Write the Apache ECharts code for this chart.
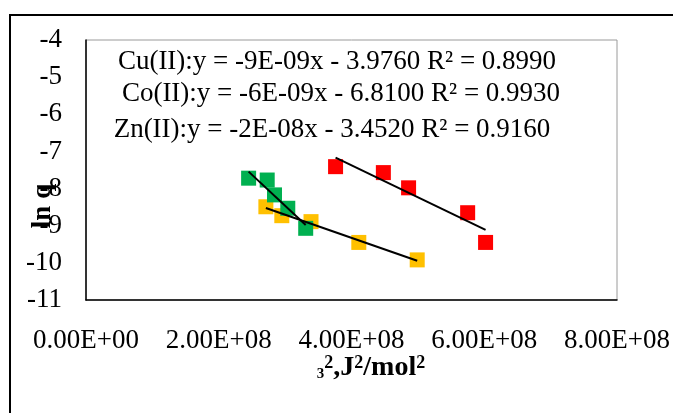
<!DOCTYPE html>
<html>
<head>
<meta charset="utf-8">
<script src="https://cdn.jsdelivr.net/npm/echarts@6/dist/echarts.min.js"></script>
<style>
  html, body { margin: 0; padding: 0; background: #fff; }
  #chart { width: 673px; height: 413px; }
</style>
</head>
<body>
<div id="chart"></div>
<script>
// Dubinin–Radushkevich plot points for each metal ion
const cuX = [3.76e8, 4.48e8, 4.86e8, 5.75e8, 6.02e8];
const cuY = [-7.41, -7.57, -7.98, -8.65, -9.45];
const coX = [2.71e8, 2.95e8, 3.39e8, 4.11e8, 4.99e8];
const coY = [-8.49, -8.73, -8.89, -9.45, -9.92];
const znX = [2.45e8, 2.73e8, 2.84e8, 3.04e8, 3.31e8];
const znY = [-7.72, -7.77, -8.17, -8.53, -9.07];

// Trendline equation texts
const eqLabels = [
  'Cu(II):y = -9E-09x - 3.9760 R² = 0.8990',
  'Co(II):y = -6E-09x - 6.8100 R² = 0.9930',
  'Zn(II):y = -2E-08x - 3.4520 R² = 0.9160'
];

// Axis ranges
const xMin = 0, xMax = 8e8, xStep = 2e8;
const yMin = -11, yMax = -4, yStep = 1;

const FONT = '"Liberation Serif", "Times New Roman", serif';

function pairs(xs, ys) { return xs.map((x, i) => [x, ys[i]]); }

// Least-squares linear trendline spanning the data's x range
function trend(xs, ys) {
  const n = xs.length;
  const mx = xs.reduce((a, b) => a + b, 0) / n;
  const my = ys.reduce((a, b) => a + b, 0) / n;
  let sxy = 0, sxx = 0;
  for (let i = 0; i < n; i++) {
    sxy += (xs[i] - mx) * (ys[i] - my);
    sxx += (xs[i] - mx) * (xs[i] - mx);
  }
  const k = sxy / sxx, b = my - k * mx;
  const x0 = Math.min(...xs), x1 = Math.max(...xs);
  return [[x0, k * x0 + b], [x1, k * x1 + b]];
}

function sci(v) {
  if (v === 0) return '0.00E+00';
  const e = Math.floor(Math.log10(Math.abs(v)));
  const m = v / Math.pow(10, e);
  return m.toFixed(2) + 'E+' + String(e).padStart(2, '0');
}

function scatter(name, xs, ys, color) {
  return {
    name, type: 'scatter', data: pairs(xs, ys),
    symbol: 'rect', symbolSize: 15,
    itemStyle: { color: color, opacity: 1 },
    z: 2
  };
}
function line(xs, ys) {
  return {
    type: 'line', data: trend(xs, ys), symbol: 'none',
    lineStyle: { color: '#000', width: 2 }, z: 5, silent: true
  };
}

const chart = echarts.init(document.getElementById('chart'), null, { renderer: 'canvas' });
chart.setOption({
  animation: false,
  backgroundColor: '#fff',
  grid: {
    left: 86, right: 56, top: 40, bottom: 113,
    show: true, borderColor: '#9a9a9a', borderWidth: 1
  },
  xAxis: {
    type: 'value', min: xMin, max: xMax, interval: xStep,
    axisLine: { show: true, lineStyle: { color: '#000', width: 1.5 } },
    axisTick: { show: false },
    splitLine: { show: false },
    axisLabel: { margin: 27, color: '#000', fontFamily: FONT, fontSize: 27, formatter: sci }
  },
  yAxis: {
    type: 'value', min: yMin, max: yMax, interval: yStep,
    axisLine: { show: true, onZero: false, lineStyle: { color: '#000', width: 1.5 } },
    axisTick: { show: false },
    splitLine: { show: false },
    axisLabel: { margin: 24, color: '#000', fontFamily: FONT, fontSize: 27 }
  },
  series: [
    scatter('Cu(II)', cuX, cuY, '#FF0000'),
    scatter('Co(II)', coX, coY, '#FFC000'),
    scatter('Zn(II)', znX, znY, '#00B050'),
    line(cuX, cuY),
    line(coX, coY),
    line(znX, znY)
  ],
  graphic: [
    {
      type: 'rect', silent: true, z: 100,
      shape: { x: 10, y: 15, width: 700, height: 450 },
      style: { fill: 'none', stroke: '#000', lineWidth: 2 }
    },
    {
      type: 'text', x: 337, y: 62, z: 50,
      style: { text: eqLabels[0], font: '27px ' + FONT, fill: '#000', align: 'center', verticalAlign: 'middle' }
    },
    {
      type: 'text', x: 341, y: 94, z: 50,
      style: { text: eqLabels[1], font: '27px ' + FONT, fill: '#000', align: 'center', verticalAlign: 'middle' }
    },
    {
      type: 'text', x: 332, y: 130, z: 50,
      style: { text: eqLabels[2], font: '27px ' + FONT, fill: '#000', align: 'center', verticalAlign: 'middle' }
    },
    {
      type: 'text', x: 43, y: 206, rotation: Math.PI / 2, z: 50,
      style: { text: 'ln q', font: 'bold 27px ' + FONT, fill: '#000', align: 'center', verticalAlign: 'middle' }
    },
    {
      type: 'text', x: 371, y: 368, z: 50,
      style: {
        text: '{s|3}{p|2}{b|,J}{p|2}{b|/mol}{p|2}',
        align: 'center', verticalAlign: 'middle',
        rich: {
          b: { fontFamily: FONT, fontWeight: 'bold', fontSize: 28, fill: '#000', verticalAlign: 'middle' },
          p: { fontFamily: FONT, fontWeight: 'bold', fontSize: 18, fill: '#000', verticalAlign: 'top' },
          s: { fontFamily: FONT, fontWeight: 'bold', fontSize: 15, fill: '#000', verticalAlign: 'bottom' }
        }
      }
    }
  ]
});
</script>
</body>
</html>
